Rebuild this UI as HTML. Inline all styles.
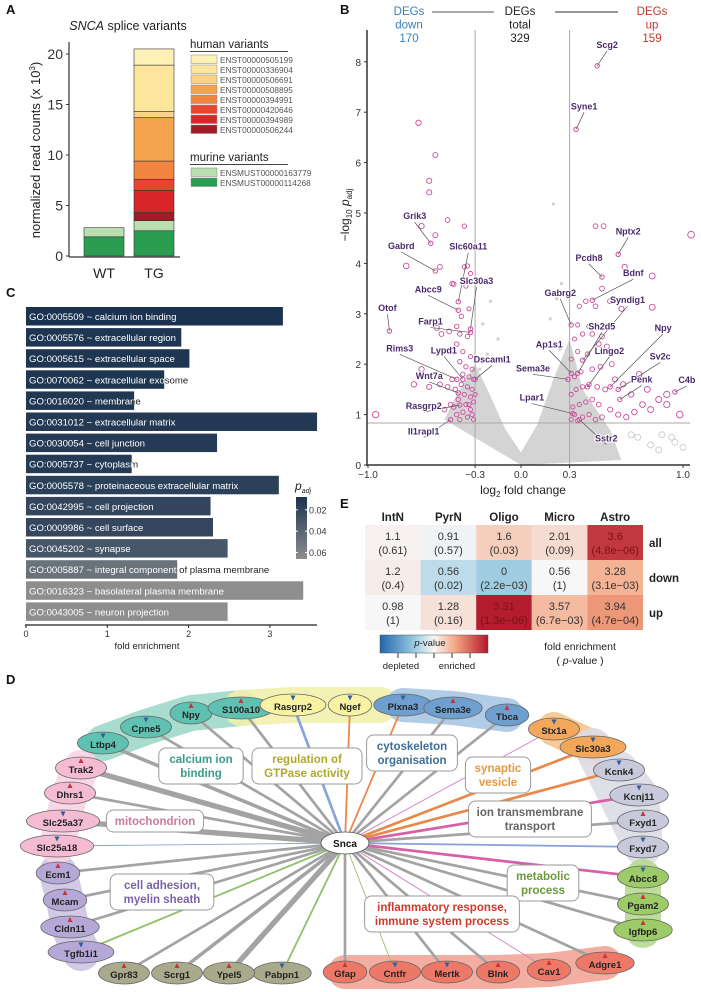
<!DOCTYPE html>
<html><head><meta charset="utf-8">
<style>
html,body{margin:0;padding:0;background:#fff;}
svg{display:block;font-family:"Liberation Sans",Arial,sans-serif;}
</style></head>
<body>
<svg id="fig" width="701" height="992" viewBox="0 0 701 992" xmlns="http://www.w3.org/2000/svg">
<g font-weight="bold" font-size="13" fill="#111">
<text x="6" y="14">A</text>
<text x="340" y="14">B</text>
<text x="6" y="297">C</text>
<text x="340" y="508">E</text>
<text x="6" y="684">D</text>
</g>
<g id="pa"></g>
<g id="pb"></g>
<g id="pc"></g>
<g id="pe"></g>
<g id="pd"></g>
</svg>
<script>
// ---------- Panel A data ----------
const aCategories = ["WT","TG"];
const aVariants = ["ENST00000505199","ENST00000336904","ENST00000506691","ENST00000508895","ENST00000394991","ENST00000420646","ENST00000394989","ENST00000506244"];
const aMurine = ["ENSMUST00000163779","ENSMUST00000114268"];
const aWT = [1.9, 0.9];
const aTG = [2.5, 1.0, 0.8, 2.2, 1.1, 1.8, 4.3, 0.6, 4.6, 1.6];
const aTicks = [0,5,10,15,20];
// ---------- Panel B data ----------
const bXTicks = [-1.0,-0.3,0.0,0.3,1.0];
const bYTicks = [0,1,2,3,4,5,6,7,8];
const bLabeled = [
 ["Scg2",0.47,7.92],["Syne1",0.34,6.66],["Grik3",-0.59,4.40],["Gabrd",-0.56,3.85],["Otof",-0.86,2.66],
 ["Slc60a11",-0.41,3.24],["Slc30a3",-0.33,2.70],["Abcc9",-0.41,3.07],["Farp1",-0.33,2.63],["Rims3",-0.42,1.70],
 ["Lypd1",-0.38,1.70],["Wnt7a",-0.41,1.43],["Dscaml1",-0.30,1.70],["Rasgrp2",-0.40,1.19],["Il1rapl1",-0.46,0.90],
 ["Gabrg2",0.31,2.78],["Nptx2",0.60,4.18],["Pcdh8",0.50,3.73],["Bdnf",0.44,3.27],["Syndig1",0.38,2.08],
 ["Sh2d5",0.35,1.82],["Npy",0.55,1.55],["Ap1s1",0.31,1.82],["Lingo2",0.41,1.55],["Sv2c",0.60,1.50],
 ["Sema3e",0.29,1.70],["Penk",0.61,1.30],["C4b",0.95,1.45],["Lpar1",0.32,1.02],["Sstr2",0.36,0.90]
];
const bDown = [[-0.67,6.79],[-0.56,6.15],[-0.6,5.64],[-0.6,5.41],[-0.48,4.86],[-0.37,4.74],[-0.56,4.56],[-0.65,4.74],[-0.53,3.93],[-0.75,3.95],[-0.37,3.93],[-0.44,3.59],[-0.33,3.8],[-0.95,1.0],
 [-0.31,0.9],[-0.32,1.0],[-0.33,1.1],[-0.35,0.95],[-0.38,1.05],[-0.4,0.9],[-0.42,1.0],[-0.44,1.15],[-0.36,1.2],[-0.31,1.25],[-0.33,1.35],[-0.37,1.4],[-0.41,1.3],[-0.46,1.2],[-0.5,1.1],[-0.32,1.5],[-0.35,1.55],[-0.39,1.6],[-0.43,1.5],[-0.48,1.55],[-0.53,1.6],[-0.31,1.7],[-0.34,1.75],[-0.38,1.8],[-0.45,1.7],[-0.6,1.55],[-0.65,1.9],[-0.32,1.9],[-0.36,1.95],[-0.4,2.05],[-0.33,2.15],[-0.38,2.25],[-0.42,2.4],[-0.35,2.55],[-0.4,2.6],[-0.47,2.65],[-0.52,2.6],[-0.42,2.75],[-0.39,2.95],[-0.34,3.1],[-0.36,3.55],[-0.45,3.6],[-0.35,3.95],[-0.55,2.72],[-0.7,1.6],[-0.34,1.2],[-0.3,1.4]];
const bUp = [[1.05,4.57],[0.81,3.75],[0.81,3.13],[0.64,3.93],[0.46,4.74],[0.51,4.74],
 [0.31,0.9],[0.33,1.0],[0.35,0.88],[0.38,0.95],[0.42,1.0],[0.46,0.9],[0.5,0.95],[0.32,1.15],[0.36,1.2],[0.4,1.25],[0.44,1.3],[0.48,1.2],[0.55,1.1],[0.6,1.0],[0.65,0.95],[0.7,1.05],[0.75,1.2],[0.8,1.1],[0.85,1.3],[0.9,1.2],[0.31,1.4],[0.34,1.5],[0.38,1.55],[0.42,1.6],[0.47,1.55],[0.52,1.5],[0.58,1.7],[0.63,1.6],[0.68,1.4],[0.73,1.8],[0.33,1.75],[0.37,1.85],[0.44,1.9],[0.49,1.95],[0.56,2.0],[0.31,2.1],[0.35,2.25],[0.41,2.2],[0.48,2.4],[0.53,2.35],[0.33,2.5],[0.38,2.6],[0.44,2.6],[0.5,2.55],[0.35,2.78],[0.42,2.75],[0.46,3.15],[0.5,3.5],[0.55,3.25],[0.62,3.1],[0.36,3.15],[0.4,3.25],[0.78,1.5],[0.9,1.4],[0.98,1.0]];
const bGray = [[0.2,5.18],[0.25,3.6],[0.22,3.3],[-0.2,3.25],[-0.25,2.8],[0.18,2.9],[-0.15,2.5],[-0.22,2.2],[0.24,2.3],[-0.27,1.9],[0.27,1.9]];
const bGrayOpen = [[0.72,0.55],[0.8,0.4],[0.87,0.6],[0.93,0.55],[1.0,0.35],[0.85,0.3],[0.95,0.45],[0.68,0.6]];
// ---------- Panel C data ----------
const cTerms = ["GO:0005509 ~ calcium ion binding","GO:0005576 ~ extracellular region","GO:0005615 ~ extracellular space","GO:0070062 ~ extracellular exosome","GO:0016020 ~ membrane","GO:0031012 ~ extracellular matrix","GO:0030054 ~ cell junction","GO:0005737 ~  cytoplasm","GO:0005578 ~ proteinaceous extracellular matrix","GO:0042995 ~ cell projection","GO:0009986 ~ cell surface","GO:0045202 ~ synapse","GO:0005887 ~ integral component of plasma membrane","GO:0016323 ~ basolateral plasma membrane","GO:0043005 ~ neuron projection"];
const cFold = [3.16,1.91,2.01,1.70,1.33,3.58,2.35,1.30,3.11,2.27,2.30,2.48,1.86,3.41,2.48];
const cPadj = [0.008,0.010,0.010,0.010,0.011,0.012,0.013,0.013,0.016,0.020,0.021,0.030,0.048,0.066,0.066];
const cXTicks = [0,1,2,3];
const cBarTicks = [0.02,0.04,0.06];
// ---------- Panel E data ----------
const eCols = ["IntN","PyrN","Oligo","Micro","Astro"];
const eRows = ["all","down","up"];
const eFold = [["1.1","0.91","1.6","2.01","3.6"],["1.2","0.56","0","0.56","3.28"],["0.98","1.28","3.31","3.57","3.94"]];
const eP = [["(0.61)","(0.57)","(0.03)","(0.09)","(4.8e\u221206)"],["(0.4)","(0.02)","(2.2e\u221203)","(1)","(3.1e\u221203)"],["(1)","(0.16)","(1.3e\u221206)","(6.7e\u221203)","(4.7e\u221204)"]];
const eScore = [[0.2,-0.25,1.5,1.0,5.3],[0.4,-1.7,-2.6,0,2.5],[0,0.8,5.9,2.2,3.3]];

const NS="http://www.w3.org/2000/svg";
function mk(parent,tag,attrs,txt){const e=document.createElementNS(NS,tag);for(const k in attrs)e.setAttribute(k,attrs[k]);if(txt!==undefined)e.textContent=txt;parent.appendChild(e);return e;}

// ================= Panel A =================
(function(){
 const g=document.getElementById('pa');
 const y0=256, ky=10.1;
 const Y=v=>y0-v*ky;
 const barX=[84,134], bw=40;
 const humanCols=["#fdf1b8","#fde69c","#fcd283","#f6a34f","#f2853f","#e8452f","#d7252a","#a31a28"];
 const murCols=["#b9dfb1","#2a9d51"];
 let t=mk(g,'text',{x:128,y:30,'font-size':12.5,'text-anchor':'middle',fill:'#222'});
 
 mk(t,'tspan',{'font-style':'italic'},'SNCA');mk(t,'tspan',{},' splice variants');
 let acc=0;
 const wtCols=[murCols[1],murCols[0]];
 aWT.forEach((v,i)=>{const r=mk(g,'rect',{x:barX[0],y:Y(acc+v),width:bw,height:v*ky,fill:wtCols[i],stroke:'#333','stroke-width':0.6});
  acc+=v;});
 const tgCols=[murCols[1],murCols[0],humanCols[7],humanCols[6],humanCols[5],humanCols[4],humanCols[3],humanCols[2],humanCols[1],humanCols[0]];
 acc=0;
 aTG.forEach((v,i)=>{const r=mk(g,'rect',{x:barX[1],y:Y(acc+v),width:bw,height:v*ky,fill:tgCols[i],stroke:'#333','stroke-width':0.6});
  acc+=v;});
 const ax=mk(g,'line',{x1:69,y1:42,x2:69,y2:257,stroke:'#333','stroke-width':1.2});
 
 mk(g,'line',{x1:69,y1:257,x2:180,y2:257,stroke:'#333','stroke-width':1.2});
 aTicks.forEach(v=>{mk(g,'line',{x1:66,x2:69,y1:Y(v),y2:Y(v),stroke:'#333'});
  const tt=mk(g,'text',{x:63,y:Y(v)+5,'font-size':14,'text-anchor':'end',fill:'#333'},String(v));
  });
 aCategories.forEach((c,i)=>{const tt=mk(g,'text',{x:barX[i]+bw/2,y:278,'font-size':14,'text-anchor':'middle',fill:'#222'},c);
  });
 const yl=mk(g,'text',{x:0,y:0,'font-size':13,'text-anchor':'middle',fill:'#222',transform:'translate(40,150) rotate(-90)'});
 
 mk(yl,'tspan',{},'normalized read counts (x 10');mk(yl,'tspan',{'font-size':8,dy:-5},'3');mk(yl,'tspan',{dy:5},')');
 const lh=mk(g,'text',{x:190,y:48,'font-size':11.5,fill:'#222'},'human variants');
 
 mk(g,'line',{x1:190,x2:288,y1:51.5,y2:51.5,stroke:'#444'});
 aVariants.forEach((n,i)=>{const y=55+i*10;
  const r=mk(g,'rect',{x:191,y:y,width:26,height:8.5,fill:humanCols[i],stroke:'#888','stroke-width':0.5});
  
  mk(g,'text',{x:220,y:y+8,'font-size':8.3,fill:'#555'},n);});
 const lm=mk(g,'text',{x:190,y:161,'font-size':11.5,fill:'#222'},'murine variants');
 
 mk(g,'line',{x1:190,x2:288,y1:164.5,y2:164.5,stroke:'#444'});
 aMurine.forEach((n,i)=>{const y=168+i*10;
  const r=mk(g,'rect',{x:191,y:y,width:26,height:8.5,fill:murCols[i],stroke:'#888','stroke-width':0.5});
  
  mk(g,'text',{x:220,y:y+8,'font-size':8.3,fill:'#555'},n);});
})();

// ================= Panel B =================
(function(){
 const g=document.getElementById('pb');
 const X=v=>v<0?521+v*153:521+v*162;
 const Y=v=>465-v*50.4;
 const hdr=[[409,'#3a7fb8',['DEGs','down','170']],[520,'#222',['DEGs','total','329']],[652,'#c0392b',['DEGs','up','159']]];
 hdr.forEach(h=>h[2].forEach((s,i)=>{const t=mk(g,'text',{x:h[0],y:15+i*13.5,'font-size':11.5,'text-anchor':'middle',fill:h[1]},s);
  }));
 mk(g,'line',{x1:432,x2:494,y1:12,y2:12,stroke:'#777','stroke-width':1.2});
 mk(g,'line',{x1:555,x2:618,y1:12,y2:12,stroke:'#333','stroke-width':1});
 const cloud=mk(g,'path',{d:`M${X(0)},${Y(0)} L${X(-0.5)},${Y(0.9)} L${X(-0.42)},${Y(1.4)} L${X(-0.3)},${Y(2.0)} L${X(-0.22)},${Y(1.5)} L${X(-0.1)},${Y(0.7)} L${X(0)},${Y(0.25)} L${X(0.1)},${Y(0.8)} L${X(0.2)},${Y(1.7)} L${X(0.3)},${Y(2.5)} L${X(0.38)},${Y(1.5)} L${X(0.55)},${Y(0.7)} L${X(0.62)},${Y(0.1)} Z`,fill:'#d4d4d4'});
 
 bGray.forEach(p=>{const c=mk(g,'circle',{cx:X(p[0]),cy:Y(p[1]),r:1.6,fill:'#cfcfcf'});
  });
 bGrayOpen.forEach(p=>{const c=mk(g,'circle',{cx:X(p[0]),cy:Y(p[1]),r:3,fill:'none',stroke:'#cfcfcf','stroke-width':1});
  });
 mk(g,'line',{x1:X(-0.3),x2:X(-0.3),y1:30,y2:465,stroke:'#aaa','stroke-width':1});
 mk(g,'line',{x1:X(0.3),x2:X(0.3),y1:30,y2:465,stroke:'#aaa','stroke-width':1});
 mk(g,'line',{x1:367,x2:690,y1:423,y2:423,stroke:'#aaa','stroke-width':1});
 const pts=bDown.concat(bUp);
 pts.forEach(p=>{const r=1.5+Math.abs(p[0])*1.8;
  const c=mk(g,'circle',{cx:X(p[0]),cy:Y(p[1]),r:r,fill:'none',stroke:'#cc4b9c','stroke-width':0.9});
  });
 const off={Scg2:[10,-18],Syne1:[8,-20],Grik3:[-16,-24],Gabrd:[-34,-22],Otof:[-2,-20],Slc60a11:[10,-52],Slc30a3:[6,-45],Abcc9:[-30,-18],Farp1:[-40,-8],Rims3:[-57,-28],Lypd1:[-19,-26],Wnt7a:[-29,-14],Dscaml1:[17,-17],Rasgrp2:[-36,4],Il1rapl1:[-27,15],Gabrg2:[-11,-29],Nptx2:[10,-20],Pcdh8:[-13,-16],Bdnf:[41,-24],Syndig1:[45,-57],Sh2d5:[24,-44],Npy:[53,-56],Ap1s1:[-22,-26],Lingo2:[22,-33],Sv2c:[42,-30],Sema3e:[-35,-8],Penk:[22,-17],C4b:[12,-9],Lpar1:[-41,-13],Sstr2:[27,22]};
 bLabeled.forEach(d=>{const px=X(d[1]),py=Y(d[2]);const o=off[d[0]]||[10,-10];
  mk(g,'line',{x1:px,y1:py,x2:px+o[0],y2:py+o[1]+3,stroke:'#555','stroke-width':0.7});
  const c=mk(g,'circle',{cx:px,cy:py,r:2.2,fill:'none',stroke:'#cc4b9c','stroke-width':1});
  
  const t=mk(g,'text',{x:px+o[0],y:py+o[1],'font-size':9,'font-weight':'bold','text-anchor':'middle',fill:'#4a2a6e',stroke:'#fff','stroke-width':2,'paint-order':'stroke'},d[0]);
  });
 const ya=mk(g,'line',{x1:367,x2:367,y1:30,y2:466,stroke:'#333','stroke-width':1.5});
 
 const xa=mk(g,'line',{x1:367,x2:690,y1:465,y2:465,stroke:'#333','stroke-width':1.5});
 
 bYTicks.forEach(v=>{mk(g,'line',{x1:364,x2:367,y1:Y(v),y2:Y(v),stroke:'#333'});
  const t=mk(g,'text',{x:361,y:Y(v)+4,'font-size':10,'text-anchor':'end',fill:'#333'},String(v));
  });
 bXTicks.forEach(v=>{mk(g,'line',{x1:X(v),x2:X(v),y1:465,y2:468,stroke:'#333'});
  const t=mk(g,'text',{x:X(v),y:478,'font-size':10,'text-anchor':'middle',fill:'#333'},v.toFixed(1).replace('-','\u2212'));
  });
 const xl=mk(g,'text',{x:523,y:494,'font-size':12,'text-anchor':'middle',fill:'#222'});
 
 mk(xl,'tspan',{},'log');mk(xl,'tspan',{'font-size':8,dy:3},'2');mk(xl,'tspan',{dy:-3},' fold change');
 const yl=mk(g,'text',{x:0,y:0,'font-size':12,'text-anchor':'middle',fill:'#222',transform:'translate(349,215) rotate(-90)'});
 
 mk(yl,'tspan',{},'\u2212log');mk(yl,'tspan',{'font-size':8,dy:3},'10');mk(yl,'tspan',{dy:-3,'font-style':'italic'},' p');mk(yl,'tspan',{'font-size':8,dy:3},'adj');
})();

// ================= Panel C =================
(function(){
 const g=document.getElementById('pc');
 const X=v=>26+v*81.3;
 const top=307, step=21.1, bh=18.5;
 const col=p=>{const t=Math.min(1,Math.max(0,(p-0.008)/(0.066-0.008)));
  const a=[27,51,80],b=[142,142,142];return `rgb(${a.map((v,i)=>Math.round(v+(b[i]-v)*t)).join(',')})`;};
 cTerms.forEach((n,i)=>{const y=top+i*step;
  const r=mk(g,'rect',{x:X(0),y:y,width:X(cFold[i])-X(0),height:bh,fill:col(cPadj[i])});
  });
 cTerms.forEach((n,i)=>{const y=top+i*step;
  const t=mk(g,'text',{x:29,y:y+13,'font-size':9.6,fill:'#fff'},n);
  
  const cid='cc'+i;const cp=mk(g,'clipPath',{id:cid});mk(cp,'rect',{x:X(cFold[i]),y:y,width:400,height:bh});
  mk(g,'text',{x:29,y:y+13,'font-size':9.6,fill:'#222','clip-path':`url(#${cid})`},n);});
 const xa=mk(g,'line',{x1:25,x2:317,y1:625,y2:625,stroke:'#222','stroke-width':1.2});
 
 cXTicks.forEach(v=>{mk(g,'line',{x1:X(v),x2:X(v),y1:625,y2:628,stroke:'#222'});
  const t=mk(g,'text',{x:X(v),y:637,'font-size':9,'text-anchor':'middle',fill:'#333'},String(v));
  });
 const xl=mk(g,'text',{x:147,y:649,'font-size':9.5,'text-anchor':'middle',fill:'#222'},'fold enrichment');
 
 const defs=mk(g,'defs',{});const lg=mk(defs,'linearGradient',{id:'cgrad',x1:0,y1:0,x2:0,y2:1});
 mk(lg,'stop',{offset:'0','stop-color':'#1b3350'});mk(lg,'stop',{offset:'1','stop-color':'#8e8e8e'});
 const cb=mk(g,'rect',{x:296,y:497,width:11,height:62,fill:'url(#cgrad)'});
 
 const cbY=v=>497+(v-0.008)/(0.066-0.008)*62;
 cBarTicks.forEach(v=>{mk(g,'line',{x1:296,x2:298,y1:cbY(v),y2:cbY(v),stroke:'#fff'});mk(g,'line',{x1:305,x2:307,y1:cbY(v),y2:cbY(v),stroke:'#fff'});
  const t=mk(g,'text',{x:309,y:cbY(v)+3.5,'font-size':9,fill:'#333'},v.toFixed(2));
  });
 const ct=mk(g,'text',{x:295,y:490,'font-size':12,'font-style':'italic',fill:'#222'});
 
 mk(ct,'tspan',{},'p');mk(ct,'tspan',{'font-size':7,dy:3},'adj');
})();

// ================= Panel E =================
(function(){
 const g=document.getElementById('pe');
 const xs=[365,420.6,476.2,531.8,587.4,643], ys=[525,560,595,630];
 const blue=[33,102,172], white=[247,247,247], red=[178,24,43], lblue=[146,197,222], lred=[244,165,130];
 function cmap(s){const m=6;let t=Math.max(-1,Math.min(1,s/m));
  const lerp=(a,b,u)=>a.map((v,i)=>Math.round(v+(b[i]-v)*u));
  let c; if(t>=0){c=t<0.5?lerp(white,lred,t/0.5):lerp(lred,red,(t-0.5)/0.5);} else {t=-t;c=t<0.5?lerp(white,lblue,t/0.5):lerp(lblue,blue,(t-0.5)/0.5);}
  return `rgb(${c.join(',')})`;}
 eCols.forEach((c,j)=>{const t=mk(g,'text',{x:(xs[j]+xs[j+1])/2,y:521,'font-size':11.5,'font-weight':'bold','text-anchor':'middle',fill:'#222'},c);
  });
 eRows.forEach((r,i)=>{
  eCols.forEach((c,j)=>{const s=eScore[i][j];
   const rc=mk(g,'rect',{x:xs[j],y:ys[i],width:xs[j+1]-xs[j],height:ys[i+1]-ys[i],fill:cmap(s)});
   
   const tc=s>4.5?'#7a1218':'#333';const cx=(xs[j]+xs[j+1])/2;
   mk(g,'text',{x:cx,y:ys[i]+15,'font-size':11,'text-anchor':'middle',fill:tc},eFold[i][j]);
   mk(g,'text',{x:cx,y:ys[i]+29,'font-size':11,'text-anchor':'middle',fill:tc},eP[i][j]);});
  const t=mk(g,'text',{x:649,y:ys[i]+22,'font-size':11.5,'font-weight':'bold',fill:'#222'},r);
  });
 const defs=mk(g,'defs',{});const lg=mk(defs,'linearGradient',{id:'egrad'});
 [[0,'#2166ac'],[0.3,'#92c5de'],[0.5,'#f7f7f7'],[0.7,'#f4a582'],[1,'#b2182b']].forEach(s=>mk(lg,'stop',{offset:s[0],'stop-color':s[1]}));
 const cb=mk(g,'rect',{x:380,y:635,width:108,height:18,fill:'url(#egrad)',stroke:'#555','stroke-width':0.5});
 
 [398,416,434,452,470].forEach(x=>mk(g,'line',{x1:x,x2:x,y1:653,y2:658,stroke:'#333'}));
 const pv=mk(g,'text',{x:430,y:646,'font-size':9.5,'text-anchor':'middle',fill:'#222'});
 mk(pv,'tspan',{'font-style':'italic'},'p');mk(pv,'tspan',{},'-value');
 mk(g,'text',{x:401,y:669,'font-size':9.5,'text-anchor':'middle',fill:'#222'},'depleted');
 mk(g,'text',{x:457,y:669,'font-size':9.5,'text-anchor':'middle',fill:'#222'},'enriched');
 const fe=mk(g,'text',{x:580,y:650,'font-size':10.5,'text-anchor':'middle',fill:'#222'},'fold enrichment');
 
 const p2=mk(g,'text',{x:580,y:664,'font-size':10.5,'text-anchor':'middle',fill:'#222'});
 mk(p2,'tspan',{},'( ');mk(p2,'tspan',{'font-style':'italic'},'p');mk(p2,'tspan',{},'-value )');
})();

// ================= Panel D (network) =================
const dNodes = [
 ["Ltbp4",103,743,"ca","d",4],["Cpne5",146,727,"ca","d",3],["Npy",191,713,"ca","u",3],["S100a10",241,708,"ca","u",3],
 ["Rasgrp2",293,705,"gt","d",3],["Ngef",350,705,"gt","d",2],
 ["Plxna3",403,705,"cy","d",2],["Sema3e",453,708,"cy","u",3],["Tbca",507,715,"cy","u",3],
 ["Stx1a",554,729,"sv","d",1],["Slc30a3",593,747,"sv","d",3],
 ["Kcnk4",619,770,"io","d",3],["Kcnj11",639,795,"io","d",3],["Fxyd1",643,821,"io","u",3],["Fxyd7",643,847,"io","d",2],
 ["Abcc8",643,877,"me","d",3],["Pgam2",643,904,"me","u",3],["Igfbp6",643,930,"me","u",3],
 ["Adgre1",605,963,"in","u",3],["Cav1",549,970,"in","u",1],["Blnk",498,972,"in","u",3],["Mertk",447,972,"in","d",3],["Cntfr",395,972,"in","d",1],["Gfap",345,972,"in","u",3],
 ["Pabpn1",282,973,"no","d",2],["Ypel5",229,973,"no","u",6],["Scrg1",177,973,"no","u",4],["Gpr83",124,973,"no","u",3],
 ["Tgfb1i1",81,952,"ad","d",2],["Cldn11",70,927,"ad","u",3],["Mcam",65,900,"ad","u",3],["Ecm1",58,873,"ad","u",3],
 ["Slc25a18",57,846,"mi","d",1],["Slc25a37",63,821,"mi","d",6],["Dhrs1",70,793,"mi","u",3],["Trak2",81,768,"mi","u",6]
];
const dEdgeColor = {Rasgrp2:"#8aa3d8",Ngef:"#e8894a",Plxna3:"#e8894a",Stx1a:"#d77ac0",Slc30a3:"#e8894a",Kcnk4:"#e8894a",Kcnj11:"#d65fa8",Fxyd7:"#8aa3d8",Abcc8:"#d65fa8",Cav1:"#d77ac0",Cntfr:"#9cbf6a",Pabpn1:"#8fc06a",Tgfb1i1:"#8fc06a",Slc25a18:"#8aa3d8"};
const dGroups = {ca:["#9ed8c9","#5fc1b1"],gt:["#f2f0ab","#f7f3a2"],cy:["#a9c7e4","#6e9fcf"],sv:["#f7c48b","#f2a75a"],io:["#dcdce6","#c9c9dc"],me:["#b7d98f","#9ccb68"],in:["#f2a597","#ee7868"],no:["#ffffff","#a9a98b"],ad:["#cdc3e3","#b6a8d6"],mi:["#f8d3e3","#f4bbd3"]};
const dLabels = [
 ["calcium ion binding",["calcium ion","binding"],201,766,"#3a9a8c"],
 ["regulation of GTPase activity",["regulation of","GTPase activity"],307,766,"#b1a82c"],
 ["cytoskeleton organisation",["cytoskeleton","organisation"],412,753,"#3f6f98"],
 ["synaptic vesicle",["synaptic","vesicle"],498,775,"#e39a3b"],
 ["ion transmembrane transport",["ion transmembrane","transport"],530,819,"#666"],
 ["mitochondrion",["mitochondrion"],155,821,"#c97aa0"],
 ["cell adhesion, myelin sheath",["cell adhesion,","myelin sheath"],162,892,"#7a62a8"],
 ["metabolic process",["metabolic","process"],543,883,"#6a9a3a"],
 ["inflammatory response, immune system process",["inflammatory response,","immune system process"],442,914,"#d03a2a"]
];
(function(){
 const g=document.getElementById('pd');
 const cx=345, cy=843;
 const gr=(k)=>dNodes.filter(n=>n[3]===k);
 const hullW={ca:36,gt:36,cy:34,sv:34,io:38,me:36,in:34,ad:38,mi:36};
 const hullExtra={gt:[[380,705]],ca:[],cy:[],sv:[],io:[[593,747]],me:[],in:[],ad:[],mi:[]};
 Object.keys(hullW).forEach(k=>{let pts=gr(k).map(n=>[n[1],n[2]]).concat(hullExtra[k]);
  if(k==='gt') pts=[[241,708]].concat(pts);
  const h=mk(g,'polyline',{points:pts.map(p=>p.join(',')).join(' '),fill:'none',stroke:dGroups[k][0],'stroke-width':hullW[k],'stroke-linecap':'round','stroke-linejoin':'round',opacity:0.9});
  });
 dNodes.forEach(n=>{const col=dEdgeColor[n[0]]||'#a3a3a3';
  const e=mk(g,'line',{x1:cx,y1:cy,x2:n[1],y2:n[2],stroke:col,'stroke-width':n[5]*0.9});
  });
 dLabels.forEach(l=>{const lines=l[1];const w=Math.max(...lines.map(s=>s.length))*6.4+14;const h=lines.length*14+8;
  const r=mk(g,'rect',{x:l[2]-w/2,y:l[3]-h/2,width:w,height:h,rx:7,fill:'#fff',stroke:'#9a9a9a','stroke-width':1});
  
  lines.forEach((s,i)=>mk(g,'text',{x:l[2],y:l[3]-h/2+15+i*14,'font-size':11.5,'font-weight':'bold','text-anchor':'middle',fill:l[4]},s));});
 dNodes.forEach(n=>{const rx=Math.max(21,n[0].length*3.7+7);
  const e=mk(g,'ellipse',{cx:n[1],cy:n[2],rx:rx,ry:11,fill:dGroups[n[3]][1],stroke:'#666','stroke-width':0.8});
  
  mk(g,'text',{x:n[1],y:n[2]+5,'font-size':9.5,'font-weight':'bold','text-anchor':'middle',fill:'#222'},n[0]);
  const up=n[4]==='u';
  const tri=mk(g,'path',{d:up?`M${n[1]-2.5},${n[2]-5} L${n[1]+2.5},${n[2]-5} L${n[1]},${n[2]-10} Z`:`M${n[1]-2.5},${n[2]-9.5} L${n[1]+2.5},${n[2]-9.5} L${n[1]},${n[2]-4.5} Z`,fill:up?'#c8323a':'#2f5f9a'});
  });
 const s=mk(g,'ellipse',{cx:cx,cy:cy,rx:24,ry:11,fill:'#fff',stroke:'#555','stroke-width':0.8});
 
 mk(g,'text',{x:cx,y:cy+4,'font-size':10,'font-weight':'bold','text-anchor':'middle',fill:'#111'},'Snca');
})();
</script>
</body></html>
